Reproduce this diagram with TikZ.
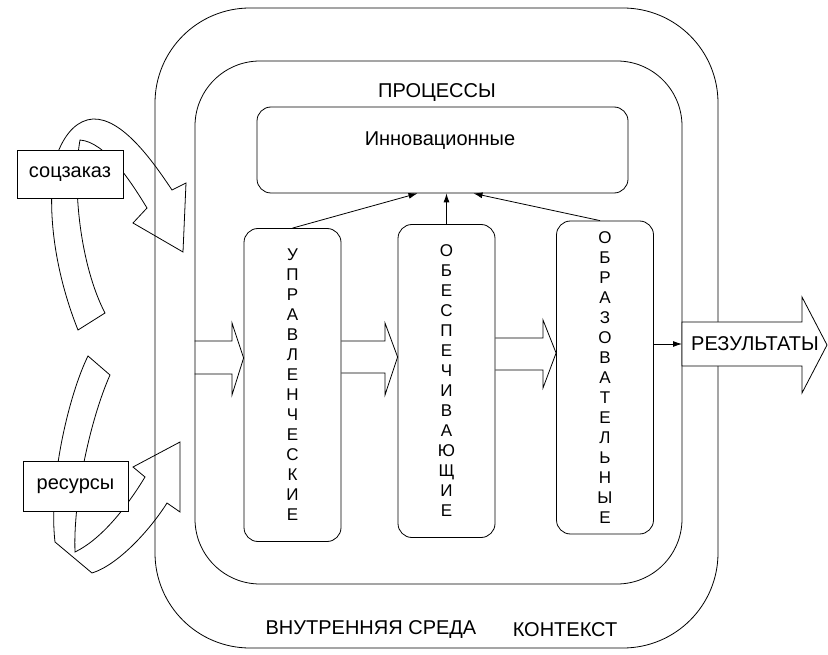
\documentclass[tikz,border=0pt]{standalone}
\usepackage{fontspec}
\setmainfont{Liberation Sans}
\usetikzlibrary{arrows.meta}

\tikzset{
  box/.style={draw, rounded corners=14pt, minimum width=97pt, minimum height=313pt,
    align=center, font=\fontsize{17}{20}\selectfont},
  tag/.style={draw, fill=white, inner sep=0pt, font=\fontsize{20}{24}\selectfont},
  big/.style={font=\fontsize{20}{24}\selectfont},
}

\begin{document}
\begin{tikzpicture}[x=1pt, y=-1pt, line width=0.8pt, >={Latex[length=9pt,width=6pt]}]
\useasboundingbox (0,0) rectangle (828,655);

%контекст и внутренняя среда
\node[draw, rounded corners=95pt, minimum width=563pt, minimum height=640pt] (ctx) at (436.5,328) {};
\node[draw, rounded corners=65pt, minimum width=487pt, minimum height=523pt] (env) at (438.5,322.5) {};
\node[big] (envlabel) at (371,630) {ВНУТРЕННЯЯ СРЕДА};
\node[big] (ctxlabel) at (565,630) {КОНТЕКСТ};

%процессы
\node[big] (proc) at (437,93) {ПРОЦЕССЫ};
\node[draw, rounded corners=14pt, minimum width=371pt, minimum height=86pt] (innov) at (442.5,150) {};
\node[big] (innovtext) at (440,141) {Инновационные};

\node[box] (upr) at (292.5,385) {У\\П\\Р\\А\\В\\Л\\Е\\Н\\Ч\\Е\\С\\К\\И\\Е};
\node[box] (obe) at (446.5,381) {О\\Б\\Е\\С\\П\\Е\\Ч\\И\\В\\А\\Ю\\Щ\\И\\Е};
\node[box] (obr) at (605,377.5) {О\\Б\\Р\\А\\З\\О\\В\\А\\Т\\Е\\Л\\Ь\\Н\\Ы\\Е};

%стрелки к инновационным
\draw[->] (upr.north) -- ([xshift=-25pt]innov.south);
\draw[->] (obe.north) -- (obe.north |- innov.south);
\draw[->] ([xshift=-5pt]obr.north) -- ([xshift=31pt]innov.south);

%широкие стрелки
\draw (env.west |- 0,341) -- (232,341) -- (232,323) -- (upr.west |- 0,358)
  -- (232,395) -- (232,374) -- (env.west |- 0,374);
\draw (upr.east |- 0,341) -- (385,341) -- (385,323) -- (obe.west |- 0,357)
  -- (385,395) -- (385,373) -- (upr.east |- 0,373);
\draw (obe.east |- 0,338) -- (543,338) -- (543,320) -- (obr.west |- 0,353)
  -- (543,388) -- (543,370) -- (obe.east |- 0,370);

%результаты
\draw[fill=white] (682,322) -- (802,322) -- (802,297) -- (827,345) -- (802,393)
  -- (802,366) -- (682,366) -- cycle;
\node[big] (result) at (755,344) {РЕЗУЛЬТАТЫ};
\coordinate (resin) at (682,344);
\draw[->] (obr.east |- resin) -- (resin);

%изогнутые стрелки слева
\draw (78,330) .. controls (50,260) and (46,190) .. (58,152)
  .. controls (66,132) and (78,120) .. (93,119)
  .. controls (122,118) and (152,160) .. (172,190)
  -- (186,183) -- (183,252) -- (133,223) -- (147,208)
  .. controls (130,180) and (105,142) .. (80,140)
  .. controls (72,185) and (80,265) .. (105,313)
  -- cycle;
\draw (88,356) .. controls (70,392) and (48,480) .. (55,542)
  -- (92,573)
  .. controls (118,565) and (150,530) .. (167,503)
  -- (180,512) -- (180,442) -- (133,467) -- (145,477)
  .. controls (125,510) and (100,540) .. (75,552)
  .. controls (73,500) and (90,420) .. (110,375)
  -- cycle;

\node[tag, minimum width=106pt, minimum height=48pt] (soc) at (70,174) {соцзаказ};
\node[tag, minimum width=105pt, minimum height=50pt] (res) at (75.5,486) {ресурсы};
\end{tikzpicture}
\end{document}
